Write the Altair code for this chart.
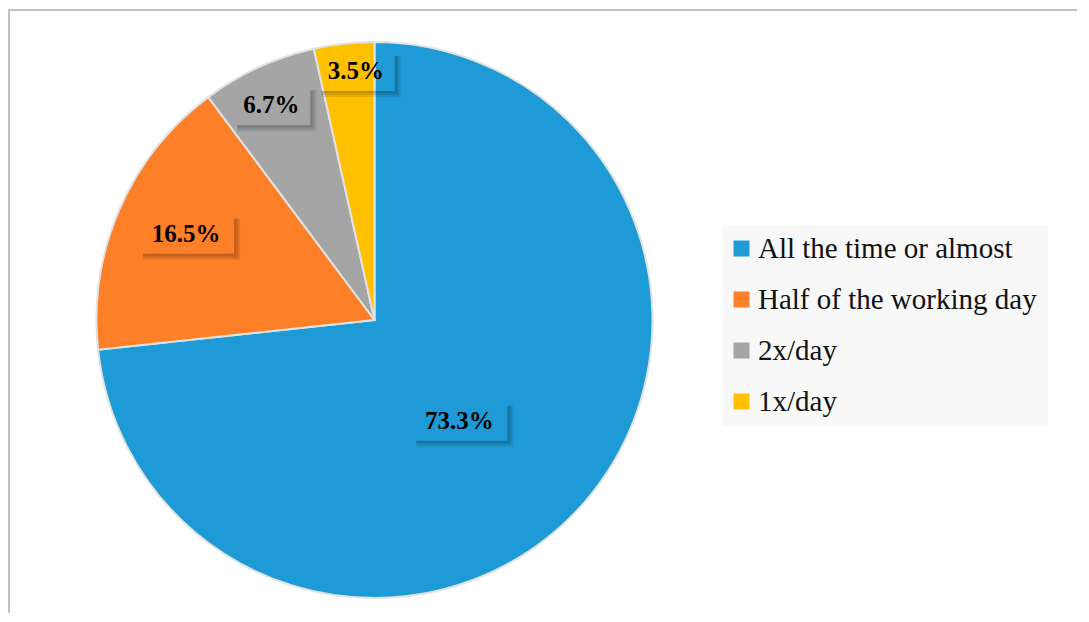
import math
import altair as alt
import pandas as pd

# ---- data ----
categories = ["All the time or almost", "Half of the working day", "2x/day", "1x/day"]
values = [73.3, 16.5, 6.7, 3.5]
labels = ["73.3%", "16.5%", "6.7%", "3.5%"]
colors = ["#1E9BD7", "#FD7F28", "#A5A5A5", "#FFC000"]

# ---- layout ----
W, H = 1068, 604
CX, CY, R = 365.5, 311, 278
LABEL_R = [0.474, 0.745, 0.857, 0.898]
LABEL_DA = [8, 1, -1, 2]  # degrees
BOX_H = 40
FONT = "Liberation Serif"

total = sum(values)
rows = []
start = 0.0
for i, (c, v, lab) in enumerate(zip(categories, values, labels)):
    mid = (start + v / 2) / total * 2 * math.pi + math.radians(LABEL_DA[i])
    start += v
    r = LABEL_R[i] * R
    lx = CX + r * math.sin(mid)
    ly = CY - r * math.cos(mid)
    bw = 18 * len(lab) + 6
    rows.append(dict(cat=c, value=v, label=lab, idx=i, lx=lx, ly=ly,
                     bl=lx - bw / 2, br=lx + bw / 2, bt=ly - BOX_H / 2, bb=ly + BOX_H / 2))
df = pd.DataFrame(rows)

color_scale = alt.Scale(domain=categories, range=colors)

frame_df = pd.DataFrame({"a": [0]})

legend_bg = alt.Chart(frame_df).mark_rect(color="#F8F8F8").encode(
    x=alt.value(714), x2=alt.value(1039), y=alt.value(216), y2=alt.value(417))

pie = alt.Chart(df).mark_arc(outerRadius=R, stroke="#E2E2E2", strokeWidth=2).encode(
    theta=alt.Theta("value:Q", stack=True),
    color=alt.Color("cat:N", scale=color_scale, sort=categories,
                    legend=alt.Legend(title=None, orient="none", legendX=718, legendY=225,
                                      padding=0, symbolType="square",
                                      symbolSize=256, symbolStrokeWidth=0, labelFont=FONT,
                                      labelFontSize=29, labelColor="#111111", labelOffset=2,
                                      rowPadding=21, labelLimit=400)),
    order=alt.Order("idx:Q"),
    x=alt.value(CX), y=alt.value(CY),
)

# soft box shadows: right and bottom strips in a few widths
shadow_layers = []
for w in (2, 4, 6):
    base = alt.Chart(df).transform_calculate(
        rx1="datum.br", rx2=f"datum.br + {w}",
        ry1="datum.bt + 5", ry2=f"datum.bb + {w}",
        bx1="datum.bl + 5", bx2="datum.br",
        by1="datum.bb", by2=f"datum.bb + {w}",
    )
    shadow_layers.append(base.mark_rect(color="#000000", opacity=0.09).encode(
        x=alt.X("rx1:Q", scale=None), x2="rx2:Q",
        y=alt.Y("ry1:Q", scale=None), y2="ry2:Q"))
    shadow_layers.append(base.mark_rect(color="#000000", opacity=0.09).encode(
        x=alt.X("bx1:Q", scale=None), x2="bx2:Q",
        y=alt.Y("by1:Q", scale=None), y2="by2:Q"))

text = alt.Chart(df).mark_text(font=FONT, fontSize=25, fontWeight="bold", color="#000000",
                               align="center", baseline="middle").encode(
    x=alt.X("lx:Q", scale=None), y=alt.Y("ly:Q", scale=None), text="label:N",
)

left_rule = alt.Chart(frame_df).mark_rule(color="#C0C0C0", strokeWidth=2).encode(
    x=alt.value(0), y=alt.value(0), y2=alt.value(H))
top_rule = alt.Chart(frame_df).mark_rule(color="#C0C0C0", strokeWidth=2).encode(
    x=alt.value(0), x2=alt.value(W), y=alt.value(1))

chart = alt.layer(legend_bg, pie, *shadow_layers, text, left_rule, top_rule).properties(
    width=W, height=H, padding=0, background="white"
).configure_view(stroke=None)

chart.save("out.html", embed_options={"renderer": "svg", "actions": False})
